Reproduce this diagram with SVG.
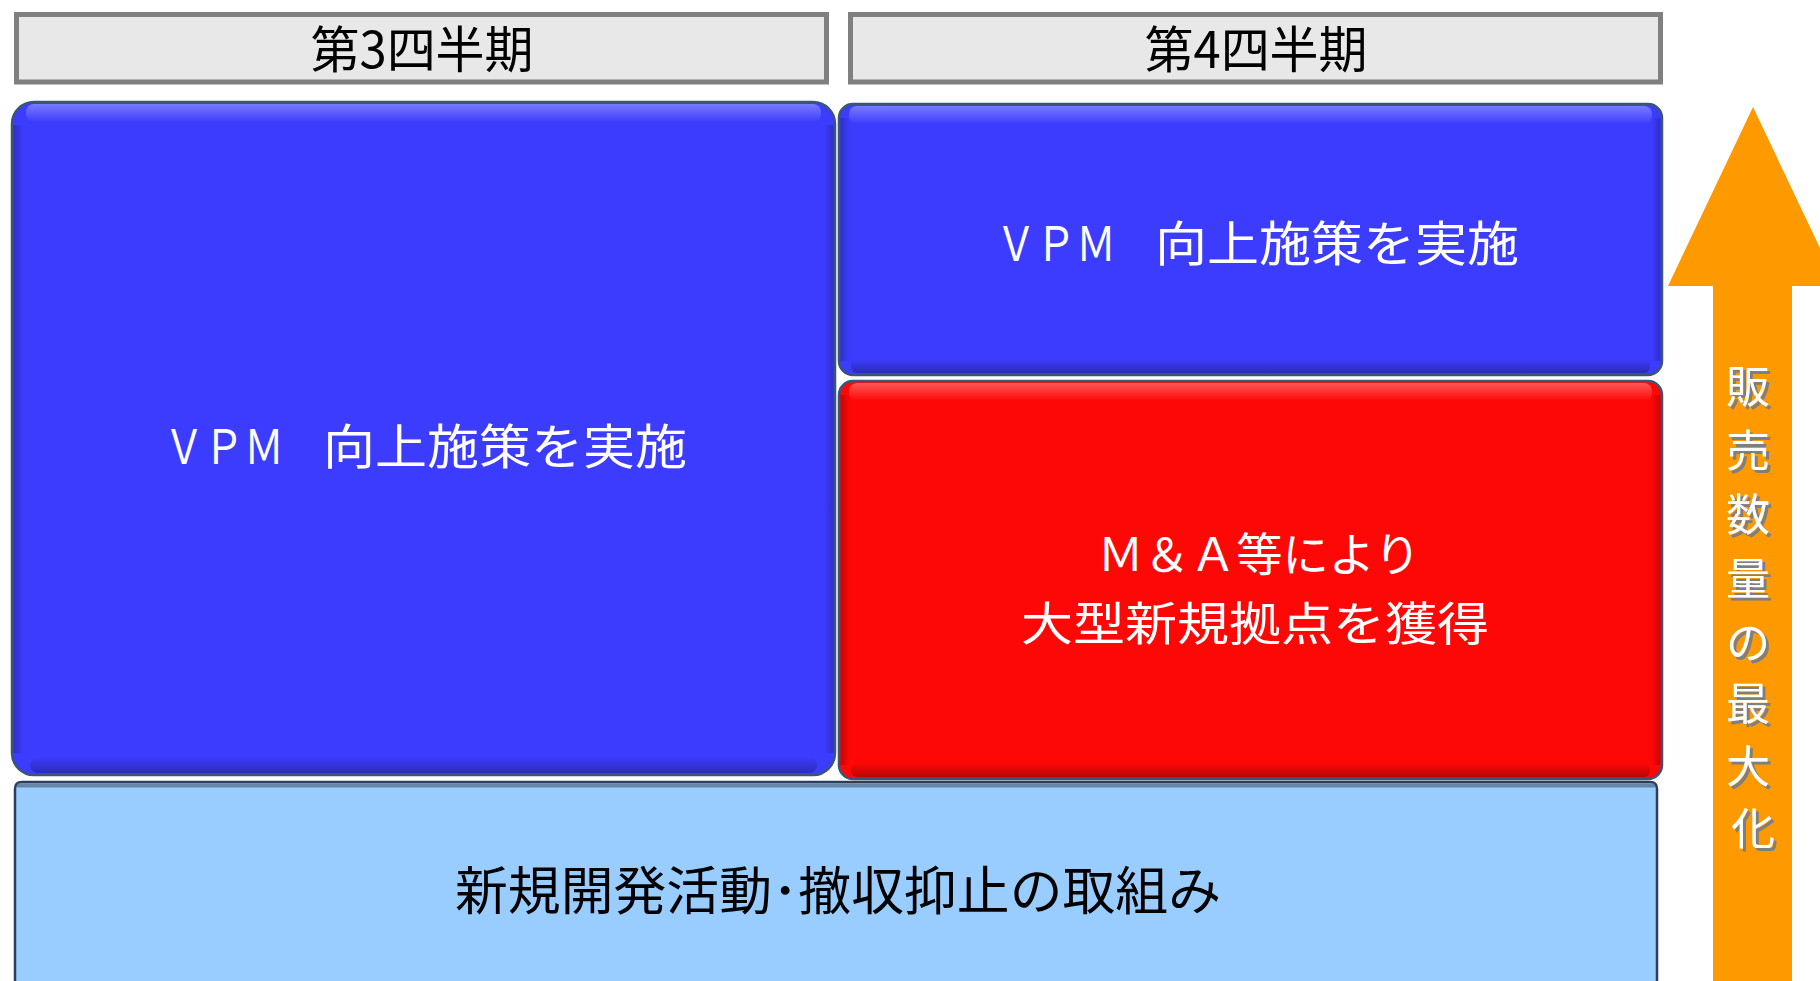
<svg xmlns="http://www.w3.org/2000/svg" width="1820" height="981" viewBox="0 0 1820 981">
<defs>
<linearGradient id="hiV" x1="0" y1="0" x2="0" y2="1">
<stop offset="0" stop-color="#ffffff" stop-opacity="0.32"/>
<stop offset="1" stop-color="#ffffff" stop-opacity="0"/>
</linearGradient>
<linearGradient id="shV" x1="0" y1="0" x2="0" y2="1">
<stop offset="0" stop-color="#000000" stop-opacity="0"/>
<stop offset="1" stop-color="#000000" stop-opacity="0.28"/>
</linearGradient>
<linearGradient id="shL" x1="0" y1="0" x2="1" y2="0">
<stop offset="0" stop-color="#000000" stop-opacity="0.22"/>
<stop offset="1" stop-color="#000000" stop-opacity="0"/>
</linearGradient>
<linearGradient id="shR" x1="0" y1="0" x2="1" y2="0">
<stop offset="0" stop-color="#000000" stop-opacity="0"/>
<stop offset="1" stop-color="#000000" stop-opacity="0.22"/>
</linearGradient>
<filter id="tshadow" x="-20%" y="-20%" width="140%" height="140%">
<feOffset dx="3" dy="3" in="SourceAlpha" result="o"/>
<feFlood flood-color="#7f7f7f"/>
<feComposite in2="o" operator="in" result="s"/>
<feMerge><feMergeNode in="s"/><feMergeNode in="SourceGraphic"/></feMerge>
</filter>
</defs>
<style>
.hdr{fill:#e8e8e8;stroke:#808080;stroke-width:5}
.hdrt{font-family:"Noto Sans CJK JP","Noto Sans",sans-serif;font-size:50px;fill:#000000;text-anchor:middle}
.box{stroke:#3a5576;stroke-width:2.5}
.blue{fill:#3c3cff}
.red{fill:#fe0707}
.lb{fill:#99ccff;stroke:#2c3e5a;stroke-width:2.5}
.wt{font-family:"Noto Sans CJK JP","Noto Sans",sans-serif;fill:#ffffff;text-anchor:middle}
.ws{font-family:"Noto Sans CJK JP","Noto Sans",sans-serif;fill:#ffffff;font-size:48px}
.bt{font-family:"Noto Sans CJK JP","Noto Sans",sans-serif;fill:#000000;text-anchor:middle}
.vt{font-family:"Noto Sans CJK JP","Noto Sans",sans-serif;font-size:44px;fill:#ffffff;text-anchor:middle}
</style>

<g id="header-q3">
<rect class="hdr" x="16.5" y="14.5" width="810" height="67.5"/>
<text class="hdrt" x="422" y="68" textLength="223" lengthAdjust="spacingAndGlyphs">第3四半期</text>
</g>

<g id="header-q4">
<rect class="hdr" x="850.5" y="14.5" width="810" height="67.5"/>
<text class="hdrt" x="1256" y="68" textLength="223" lengthAdjust="spacingAndGlyphs">第4四半期</text>
</g>

<g id="q3-vpm">
<rect class="box blue" x="12" y="102" width="823" height="673" rx="22"/>
<rect x="26" y="104" width="795" height="18" rx="8" fill="url(#hiV)"/>
<rect x="30" y="757" width="787" height="16" rx="8" fill="url(#shV)"/>
<rect x="13.5" y="125" width="10" height="628" fill="url(#shL)"/>
<rect x="823.5" y="125" width="10" height="628" fill="url(#shR)"/>
<text class="ws" x="164" y="464" textLength="120" lengthAdjust="spacingAndGlyphs">ＶＰＭ</text>
<text class="ws" x="323" y="464" textLength="364" lengthAdjust="spacingAndGlyphs">向上施策を実施</text>
</g>

<g id="q4-vpm">
<rect class="box blue" x="839" y="104" width="823" height="271" rx="14"/>
<rect x="849" y="106" width="803" height="18" rx="8" fill="url(#hiV)"/>
<rect x="851" y="359" width="799" height="14" rx="6" fill="url(#shV)"/>
<rect x="840.5" y="118" width="9" height="243" fill="url(#shL)"/>
<rect x="1651.5" y="118" width="9" height="243" fill="url(#shR)"/>
<text class="ws" x="996" y="261" textLength="120" lengthAdjust="spacingAndGlyphs">ＶＰＭ</text>
<text class="ws" x="1155" y="261" textLength="364" lengthAdjust="spacingAndGlyphs">向上施策を実施</text>
</g>

<g id="q4-ma">
<rect class="box red" x="839" y="381" width="823" height="398" rx="14"/>
<rect x="849" y="383" width="803" height="18" rx="8" fill="url(#hiV)"/>
<rect x="851" y="763" width="799" height="14" rx="6" fill="url(#shV)"/>
<rect x="840.5" y="395" width="9" height="370" fill="url(#shL)"/>
<rect x="1651.5" y="395" width="9" height="370" fill="url(#shR)"/>
<text class="wt" x="1259" y="571" font-size="46" textLength="323" lengthAdjust="spacingAndGlyphs">Ｍ＆Ａ等により</text>
<text class="wt" x="1255" y="640" font-size="46" textLength="468" lengthAdjust="spacingAndGlyphs">大型新規拠点を獲得</text>
</g>

<g id="base-activity">
<path class="lb" d="M15,995 V789 Q15,782 22,782 H1650 Q1657,782 1657,789 V995 Z"/>
<rect x="17" y="783.5" width="1638" height="4" fill="#5a7392" opacity="0.8"/>
<text class="bt" x="838" y="910" font-size="52" textLength="766" lengthAdjust="spacingAndGlyphs">新規開発活動･撤収抑止の取組み</text>
</g>

<g id="sales-arrow">
<polygon points="1753,107 1838,286 1792,286 1792,995 1713,995 1713,286 1668,286" fill="#ff9900"/>
<text class="vt" filter="url(#tshadow)">
<tspan x="1753" y="403">販</tspan>
<tspan x="1753" y="467">売</tspan>
<tspan x="1753" y="531">数</tspan>
<tspan x="1753" y="595">量</tspan>
<tspan x="1753" y="659">の</tspan>
<tspan x="1753" y="720">最</tspan>
<tspan x="1753" y="783">大</tspan>
<tspan x="1753" y="845">化</tspan>
</text>
</g>

<g id="connectors"></g>
</svg>
